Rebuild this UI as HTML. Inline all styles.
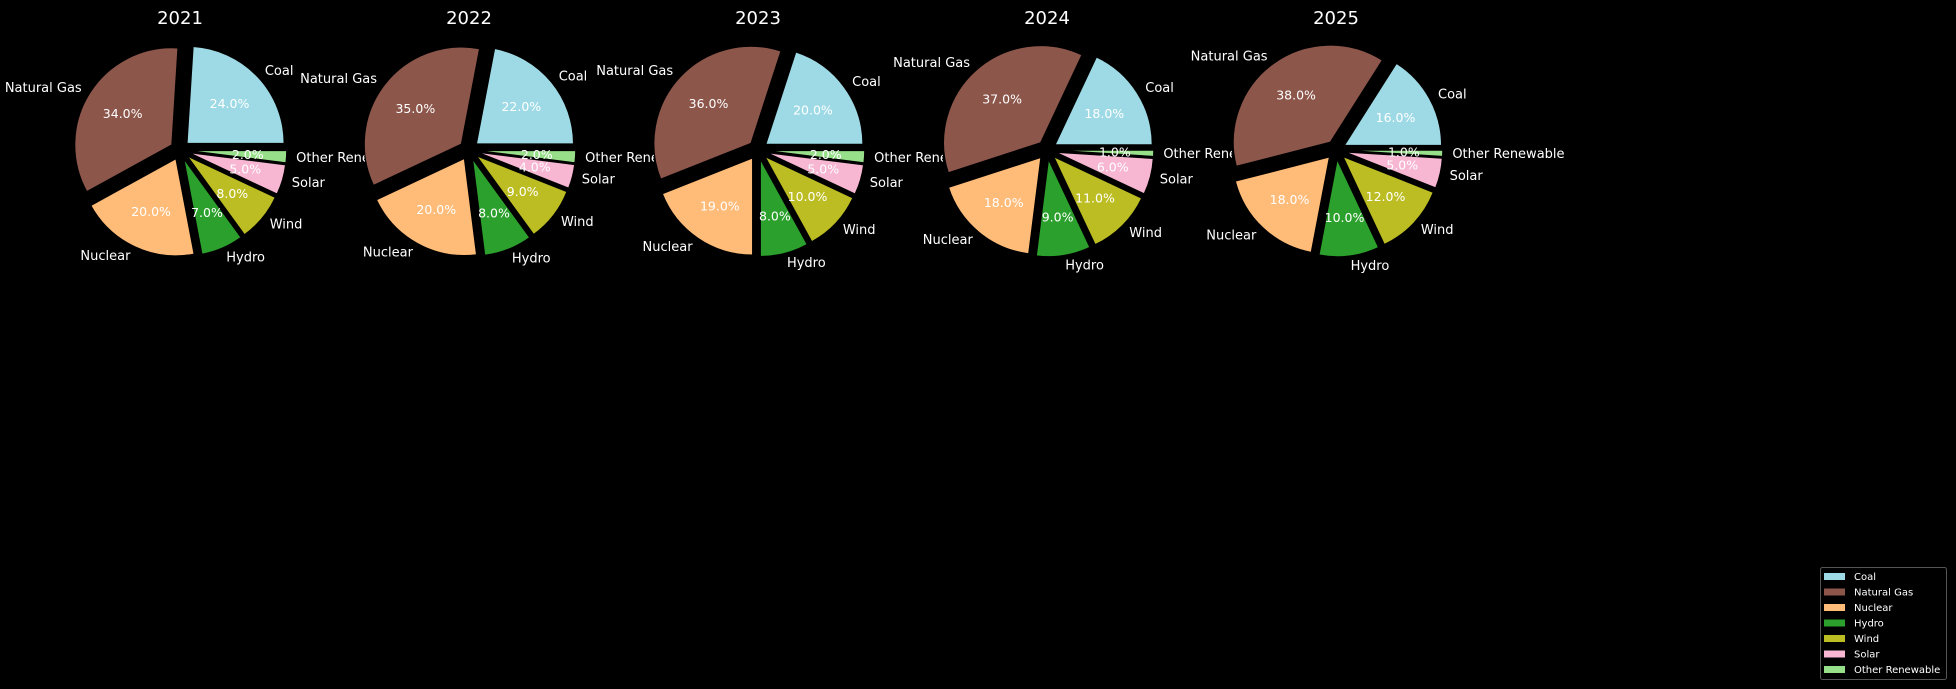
<!DOCTYPE html>
<html><head><meta charset="utf-8"><style>
html,body{margin:0;padding:0;background:#000;}
svg{display:block;font-family:"DejaVu Sans","Liberation Sans",sans-serif;}
</style></head><body>
<svg id="chart" width="1956" height="689" viewBox="0 0 1956 689">
<rect width="1956" height="689" fill="#000"/>
</svg>
<script>
const years = ["2021","2022","2023","2024","2025"];
const categories = ["Coal","Natural Gas","Nuclear","Hydro","Wind","Solar","Other Renewable"];
const colors = ["#9edae5","#8c564b","#ffbb78","#2ca02c","#bcbd22","#f7b6d2","#98df8a"];
const share2021 = [24,34,20,7,8,5,2];
const share2022 = [22,35,20,8,9,4,2];
const share2023 = [20,36,19,8,10,5,2];
const share2024 = [18,37,18,9,11,6,1];
const share2025 = [16,38,18,10,12,5,1];
const allShares = [share2021,share2022,share2023,share2024,share2025];

const NS="http://www.w3.org/2000/svg";
const svg=document.getElementById('chart');
function mk(tag,attrs,parent){const e=document.createElementNS(NS,tag);for(const k in attrs)e.setAttribute(k,attrs[k]);(parent||svg).appendChild(e);return e;}
const R=97, cy=150, x0=180, step=289, explode=0.1, halfAxes=104;
years.forEach((yr,i)=>{
  const cx=x0+i*step;
  const g=mk('g',{});
  
  
  const bg=mk('rect',{x:cx-halfAxes,y:0,width:2*halfAxes,height:260,fill:'#000'},g);
  
  
  const t=mk('text',{x:cx,y:24,'text-anchor':'middle',fill:'#fff','font-size':'18'},g);
  t.textContent=yr;
  
  
  const vals=allShares[i];
  const total=vals.reduce((a,b)=>a+b,0);
  let a0=0;
  vals.forEach((v,j)=>{
    const a1=a0+v/total*360;
    const mid=(a0+a1)/2*Math.PI/180;
    const ox=cx+explode*R*Math.cos(mid), oy=cy-explode*R*Math.sin(mid);
    const r0=a0*Math.PI/180, r1=a1*Math.PI/180;
    const p1=[ox+R*Math.cos(r0),oy-R*Math.sin(r0)], p2=[ox+R*Math.cos(r1),oy-R*Math.sin(r1)];
    const large=(a1-a0)>180?1:0;
    const w=mk('path',{d:`M${ox},${oy} L${p1[0]},${p1[1]} A${R},${R} 0 ${large} 0 ${p2[0]},${p2[1]} Z`,fill:colors[j],stroke:'#000','stroke-width':1},g);
    
    
    const lx=ox+1.1*R*Math.cos(mid), ly=oy-1.1*R*Math.sin(mid);
    const l=mk('text',{x:lx,y:ly+4.5,'text-anchor':Math.cos(mid)>=0?'start':'end',fill:'#fff','font-size':'13'},g);
    l.textContent=categories[j];
    
    
    const px=ox+0.6*R*Math.cos(mid), py=oy-0.6*R*Math.sin(mid);
    const p=mk('text',{x:px,y:py+4.5,'text-anchor':'middle',fill:'#fff','font-size':'12.5'},g);
    p.textContent=v.toFixed(1)+'%';
    
    
    a0=a1;
  });
});
const lg=mk('g',{});


mk('rect',{x:1820.5,y:567.5,width:126,height:112,rx:2,fill:'#000',stroke:'#555','stroke-width':1},lg);
categories.forEach((c,j)=>{
  const y=576+j*15.5;
  const sw=mk('rect',{x:1824,y:y-3,width:21,height:7,fill:colors[j]},lg);
  
  
  const tx=mk('text',{x:1854,y:y+4,fill:'#fff','font-size':'10'},lg);
  tx.textContent=c;
  
  
});
</script>
</body></html>
